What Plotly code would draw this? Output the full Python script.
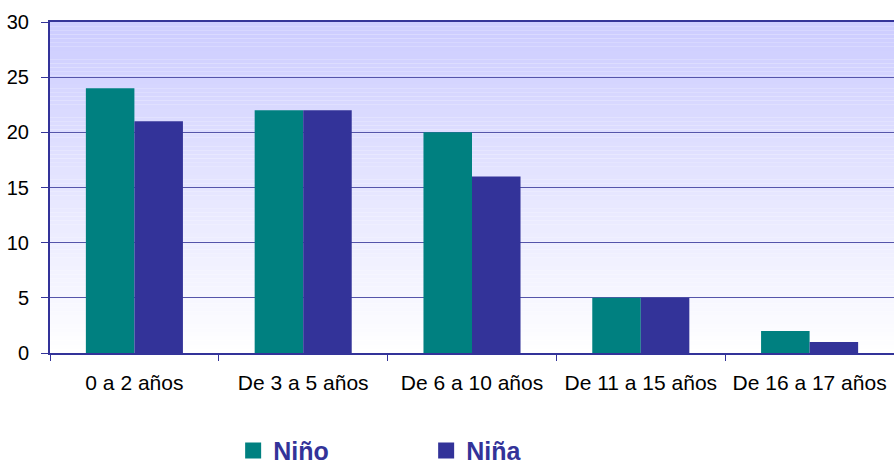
import plotly.graph_objects as go

categories = ["0 a 2 años", "De 3 a 5 años", "De 6 a 10 años", "De 11 a 15 años", "De 16 a 17 años"]
nino = [24, 22, 20, 5, 2]
nina = [21, 22, 16, 5, 1]
series_names = ["Niño", "Niña"]
y_ticks = [0, 5, 10, 15, 20, 25, 30]

TEAL = "#008080"
NAVY = "#333399"

fig = go.Figure()
fig.add_bar(x=categories, y=nino, name=series_names[0], marker=dict(color=TEAL, line=dict(width=0)), showlegend=False)
fig.add_bar(x=categories, y=nina, name=series_names[1], marker=dict(color=NAVY, line=dict(width=0)), showlegend=False)

# legend entries as square markers
for nm, col in zip(series_names, [TEAL, NAVY]):
    fig.add_scatter(x=[None], y=[None], mode="markers", name=nm,
                    marker=dict(symbol="square", size=17, color=col))

# gradient background (lavender top -> white bottom)
top = (204, 204, 255)
bot = (255, 255, 255)
n = 80
shapes = []
for i in range(n):
    t = (i + 0.5) / n
    c = tuple(round(bot[k] + (top[k] - bot[k]) * t) for k in range(3))
    shapes.append(dict(type="rect", xref="x domain", yref="y domain",
                       x0=0, x1=1, y0=i / n, y1=(i + 1) / n,
                       fillcolor="rgb(%d,%d,%d)" % c, line=dict(width=0), layer="below"))

fig.update_layout(
    width=894, height=463,
    margin=dict(l=50, r=0, t=22, b=110, autoexpand=False),
    paper_bgcolor="white", plot_bgcolor="white",
    barmode="group", bargap=0.425, bargroupgap=0,
    font=dict(family="Liberation Sans, Arial, sans-serif", size=20, color="black"),
    shapes=shapes,
    showlegend=True,
    legend=dict(orientation="h", x=0.217, xanchor="left", y=-0.295, yanchor="middle",
                font=dict(size=25, color=NAVY, family="Liberation Sans, Arial, sans-serif", weight="bold"),
                entrywidth=148, entrywidthmode="pixels", itemclick=False),
)
fig.update_xaxes(type="category", showline=True, linecolor=NAVY, linewidth=2, mirror=True,
                 ticks="outside", tickson="boundaries", ticklen=6, tickcolor=NAVY, tickwidth=1,
                 showgrid=False, tickfont=dict(size=21), automargin=False, ticklabelstandoff=10)
fig.update_yaxes(range=[0, 30], tickvals=y_ticks, showline=True, linecolor=NAVY, linewidth=2,
                 ticks="outside", ticklen=7, tickcolor=NAVY, tickwidth=1,
                 showgrid=True, gridcolor="#5555AA", gridwidth=1, zeroline=False,
                 tickfont=dict(size=20), automargin=False, ticklabelstandoff=8)

fig.write_html("out.html", config={"displayModeBar": False},
               post_script="document.body.style.margin='0';document.body.style.overflow='hidden';")
